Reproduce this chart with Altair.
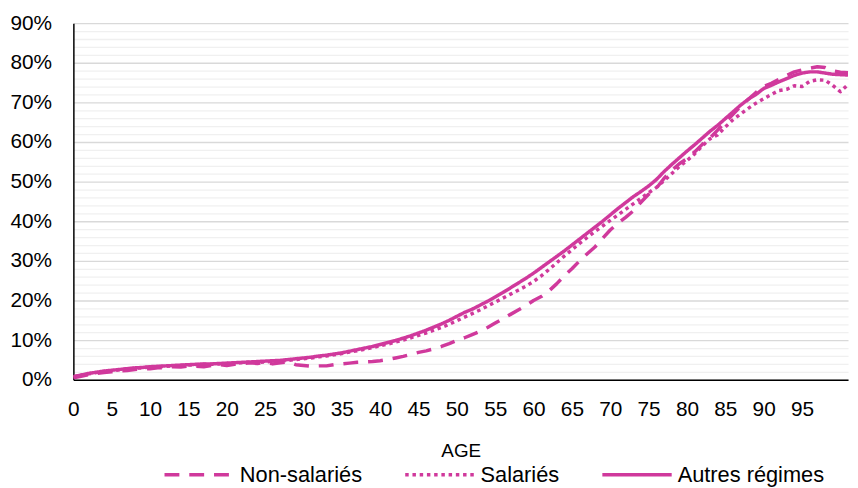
import altair as alt
import pandas as pd

ages = list(range(0, 102))
series_names = ["Non-salariés", "Salariés", "Autres régimes"]

non_salaries = [0.5, 0.9, 1.3, 1.6, 1.8, 2.0, 2.2, 2.3, 2.6, 2.7,
                2.8, 3.0, 3.1, 3.3, 3.2, 3.5, 3.4, 3.3, 3.6, 3.8,
                3.6, 3.9, 4.0, 4.3, 4.1, 4.4, 4.0, 4.3, 4.5, 3.8,
                3.6, 3.4, 3.5, 3.5, 3.8, 4.0, 4.2, 4.4, 4.5, 4.6,
                4.8, 5.1, 5.5, 5.9, 6.4, 6.9, 7.3, 7.8, 8.4, 9.1,
                9.9, 10.6, 11.4, 12.2, 13.2, 14.3, 15.4, 16.5, 17.6, 18.7,
                20.0, 21.0, 22.4, 24.2, 26.2, 28.0, 30.0, 31.8, 33.5, 35.7,
                37.8, 39.5, 41.0, 42.6, 44.8, 46.8, 48.3, 50.8, 52.8, 54.5,
                55.8, 57.5, 59.4, 61.0, 63.0, 65.0, 67.0, 69.0, 70.8, 72.5,
                74.0, 74.8, 75.8, 76.8, 77.7, 78.2, 78.6, 79.0, 78.8, 78.0,
                77.6, 77.5]

salaries = [0.7, 1.1, 1.5, 1.8, 2.1, 2.3, 2.5, 2.7, 2.9, 3.0,
            3.2, 3.3, 3.4, 3.5, 3.6, 3.7, 3.8, 3.9, 3.9, 4.0,
            4.1, 4.2, 4.3, 4.4, 4.4, 4.5, 4.6, 4.7, 4.9, 5.1,
            5.3, 5.5, 5.8, 6.0, 6.3, 6.6, 7.0, 7.3, 7.7, 8.1,
            8.6, 9.0, 9.5, 10.0, 10.6, 11.2, 11.8, 12.5, 13.2, 14.0,
            14.9, 15.8, 16.7, 17.6, 18.6, 19.6, 20.6, 21.6, 22.6, 23.6,
            24.8, 26.2, 27.8, 29.5, 31.2, 32.8, 34.4, 35.9, 37.4, 38.8,
            40.2, 41.6, 43.0, 44.4, 45.8, 47.2, 48.5, 50.2, 52.0, 53.8,
            55.3, 57.0, 59.0, 60.8, 61.8, 63.8, 65.6, 67.1, 68.5, 69.8,
            70.9, 72.0, 73.0, 73.3, 74.2, 74.0, 75.3, 75.7, 75.6, 74.3,
            72.7, 74.5]

autres_regimes = [0.8, 1.2, 1.6, 1.9, 2.2, 2.4, 2.6, 2.8, 3.0, 3.1,
                  3.3, 3.4, 3.5, 3.6, 3.7, 3.8, 3.9, 4.0, 4.0, 4.1,
                  4.2, 4.3, 4.4, 4.5, 4.6, 4.7, 4.8, 4.9, 5.1, 5.3,
                  5.5, 5.7, 6.0, 6.2, 6.5, 6.8, 7.2, 7.6, 8.0, 8.4,
                  8.9, 9.4, 9.9, 10.5, 11.1, 11.8, 12.5, 13.3, 14.1, 15.0,
                  16.0, 17.0, 17.8, 18.8, 19.8, 20.9, 22.0, 23.2, 24.4, 25.6,
                  26.9, 28.3, 29.7, 31.1, 32.5, 34.0, 35.5, 37.0, 38.5, 40.0,
                  41.6, 43.2, 44.7, 46.2, 47.5, 48.9, 50.5, 52.5, 54.3, 56.0,
                  57.7, 59.3, 61.0, 62.7, 64.2, 65.9, 67.6, 69.3, 70.8, 72.0,
                  73.5, 74.3, 75.2, 76.0, 76.8, 77.4, 77.7, 77.7, 77.4, 77.1,
                  77.0, 76.9]

x_tick_labels = list(range(0, 100, 5))
y_tick_values = [i / 100 for i in range(0, 92, 2)]

rows = []
for name, vals in zip(series_names, [non_salaries, salaries, autres_regimes]):
    for a, v in zip(ages, vals):
        rows.append({"age": a, "taux": v / 100, "regime": name})
df = pd.DataFrame(rows)

COLOR = "#d0399c"
FONT = "Liberation Sans"

chart = alt.Chart(df).mark_line(
    color=COLOR, strokeWidth=3.5, strokeCap="butt", strokeJoin="round", clip=True
).encode(
    x=alt.X(
        "age:Q",
        scale=alt.Scale(domain=[0, 101], nice=False, zero=False),
        axis=alt.Axis(
            values=x_tick_labels, title="AGE", grid=False, ticks=False,
            labelPadding=19, labelFontSize=21, labelFont=FONT, labelColor="#000",
            titleFontSize=19, titleFont=FONT, titleFontWeight="normal", titleColor="#000",
            titlePadding=22, domainColor="#000", domainWidth=1.5, labelFlush=False,
        ),
    ),
    y=alt.Y(
        "taux:Q",
        scale=alt.Scale(domain=[0, 0.9], nice=False),
        axis=alt.Axis(
            values=y_tick_values, title=None, ticks=False,
            labelExpr="round(datum.value*100) % 10 === 0 ? format(datum.value, '.0%') : ''",
            labelOverlap=False, labelPadding=22, labelFontSize=21, labelFont=FONT,
            labelColor="#000", domainColor="#000", domainWidth=1.5,
            gridColor={"condition": {"test": "round(datum.value*100) % 10 === 0", "value": "#d9d9d9"},
                       "value": "#f0f0f0"},
            gridWidth=1.3,
        ),
    ),
    strokeDash=alt.StrokeDash(
        "regime:N",
        scale=alt.Scale(domain=series_names, range=[[15, 10], [3.5, 3.8], [1, 0]]),
        legend=alt.Legend(
            orient="none", legendX=90, legendY=419, direction="horizontal", columns=3,
            title=None, symbolType="stroke", symbolSize=4900, symbolStrokeWidth=3.5,
            symbolStrokeColor=COLOR, labelFontSize=22, labelFont=FONT, labelColor="#000",
            labelOffset=4, columnPadding=36,
        ),
    ),
).properties(
    width=782,
    height=360,
    padding={"left": 66, "top": 13, "right": 2, "bottom": 107},
    autosize=alt.AutoSizeParams(type="none"),
).configure_view(stroke=None)

chart.save("out.html", embed_options={"renderer": "svg", "actions": False})
